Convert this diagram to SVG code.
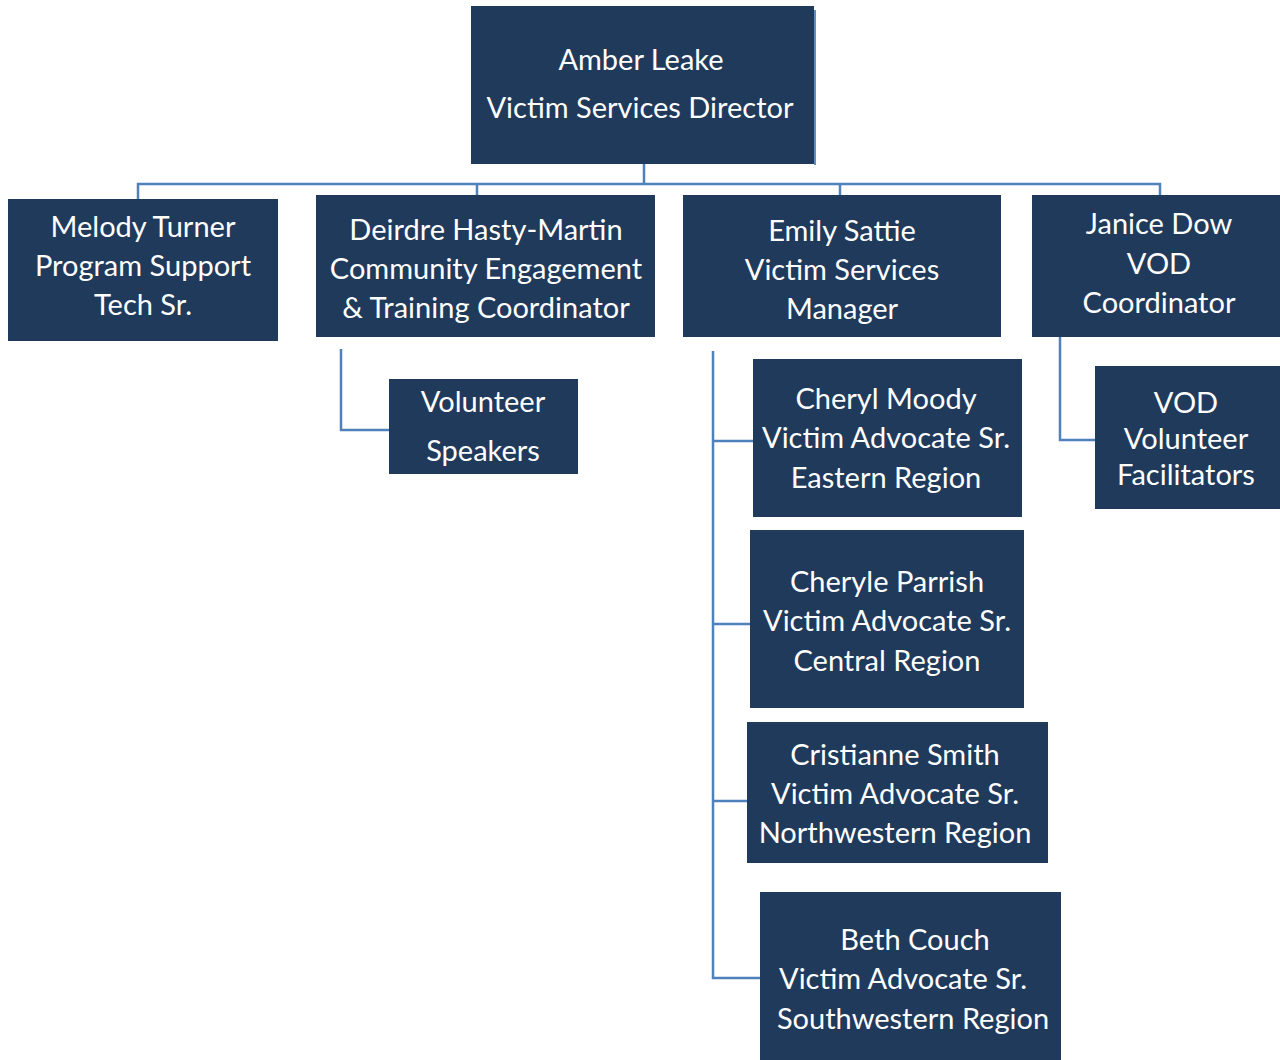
<svg xmlns="http://www.w3.org/2000/svg" width="1280" height="1060" viewBox="0 0 1280 1060">
<style>
.box{fill:#203a5c}
.t{font-family:Lato,"Open Sans","Liberation Sans",sans-serif;font-size:29px;fill:#ffffff;text-anchor:middle}
.c{fill:none;stroke:#4f81bd;stroke-width:2.5}
</style>
<rect width="1280" height="1060" fill="#ffffff"/>
<g id="connectors">
<path class="c" d="M644,164 V184 M138,199 V184 H1160 V195 M477,184 V195 M840,184 V195"/>
<path class="c" d="M341,349 V430 H389"/>
<path class="c" d="M713,351 V978 H760 M713,441 H753 M713,624 H750 M713,801 H747"/>
<path class="c" d="M1060,337 V440 H1095"/>
<path d="M815,10 V165" stroke="#5b8ec6" stroke-width="2" fill="none"/>
</g>
<g id="director">
<rect class="box" x="471" y="6" width="343" height="158"/>
<text class="t" x="641" y="70">Amber Leake</text>
<text class="t" x="640" y="118">Victim Services Director</text>
</g>
<g id="melody">
<rect class="box" x="8" y="199" width="270" height="142"/>
<text class="t" x="143" y="237">Melody Turner</text>
<text class="t" x="143" y="276">Program Support</text>
<text class="t" x="143" y="315">Tech Sr.</text>
</g>
<g id="deirdre">
<rect class="box" x="316" y="195" width="339" height="142"/>
<text class="t" x="486" y="240">Deirdre Hasty-Martin</text>
<text class="t" x="486" y="279">Community Engagement</text>
<text class="t" x="486" y="318">&amp; Training Coordinator</text>
</g>
<g id="emily">
<rect class="box" x="683" y="195" width="318" height="142"/>
<text class="t" x="842" y="241">Emily Sattie</text>
<text class="t" x="842" y="280">Victim Services</text>
<text class="t" x="842" y="319">Manager</text>
</g>
<g id="janice">
<rect class="box" x="1032" y="195" width="248" height="142"/>
<text class="t" x="1159" y="234">Janice Dow</text>
<text class="t" x="1159" y="274">VOD</text>
<text class="t" x="1159" y="313">Coordinator</text>
</g>
<g id="volunteer-speakers">
<rect class="box" x="389" y="379" width="189" height="95"/>
<text class="t" x="483" y="412">Volunteer</text>
<text class="t" x="483" y="461">Speakers</text>
</g>
<g id="cheryl">
<rect class="box" x="753" y="359" width="269" height="158"/>
<text class="t" x="886" y="409">Cheryl Moody</text>
<text class="t" x="886" y="448">Victim Advocate Sr.</text>
<text class="t" x="886" y="488">Eastern Region</text>
</g>
<g id="vod-facilitators">
<rect class="box" x="1095" y="366" width="185" height="143"/>
<text class="t" x="1186" y="413">VOD</text>
<text class="t" x="1186" y="449">Volunteer</text>
<text class="t" x="1186" y="485">Facilitators</text>
</g>
<g id="cheryle">
<rect class="box" x="750" y="530" width="274" height="178"/>
<text class="t" x="887" y="592">Cheryle Parrish</text>
<text class="t" x="887" y="631">Victim Advocate Sr.</text>
<text class="t" x="887" y="671">Central Region</text>
</g>
<g id="cristianne">
<rect class="box" x="747" y="722" width="301" height="141"/>
<text class="t" x="895" y="765">Cristianne Smith</text>
<text class="t" x="895" y="804">Victim Advocate Sr.</text>
<text class="t" x="895" y="843">Northwestern Region</text>
</g>
<g id="beth">
<rect class="box" x="760" y="892" width="301" height="168"/>
<text class="t" x="915" y="950">Beth Couch</text>
<text class="t" x="903" y="989">Victim Advocate Sr.</text>
<text class="t" x="913" y="1029">Southwestern Region</text>
</g>
</svg>
